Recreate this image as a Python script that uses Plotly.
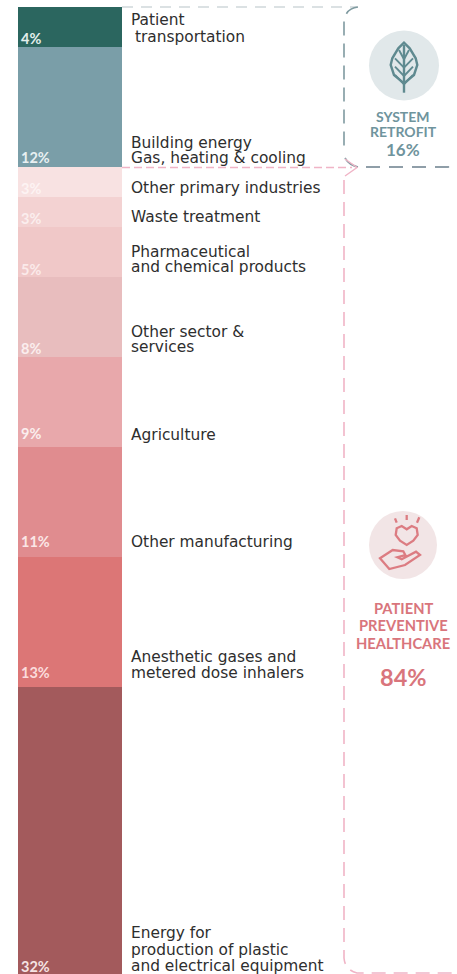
import plotly.graph_objects as go

# Share of emissions by sector, listed from the top of the column down
sectors = [
    "Patient transportation", "Building energy, gas, heating & cooling",
    "Other primary industries", "Waste treatment",
    "Pharmaceutical and chemical products", "Other sector & services",
    "Agriculture", "Other manufacturing",
    "Anesthetic gases and metered dose inhalers",
    "Energy for production of plastic and electrical equipment",
]
shares = [4, 12, 3, 3, 5, 8, 9, 11, 13, 32]
share_labels = [f"{v}%" for v in shares]
system_total = "16%"
patient_total = "84%"

bar_colors = ["#2b665f", "#7a9ea8", "#f8e2e2", "#f3d2d2", "#f0c8c8",
              "#e8bdbe", "#e8a8ab", "#e08c8f", "#dc7676", "#a35a5c"]
share_label_colors = ["#e4efec", "#e8f0f2", "#fdf3f3", "#fbeeee", "#fbeaea",
                      "#fbeeee", "#fbeeee", "#fbe6e6", "#fbdcdc", "#f5e3e3"]
share_label_y = [38, 157, 188, 218, 269, 348, 433, 541, 672, 966]

# Sector captions, one entry per rendered line: text, left edge, centre height
caption_lines = [
    ("Patient", 130, 20), ("transportation", 134, 37),
    ("Building energy", 130, 143), ("Gas, heating & cooling", 130, 158),
    ("Other primary industries", 130, 188),
    ("Waste treatment", 130, 217),
    ("Pharmaceutical", 130, 252), ("and chemical products", 130, 267),
    ("Other sector &", 130, 332), ("services", 130, 347),
    ("Agriculture", 130, 435),
    ("Other manufacturing", 130, 542),
    ("Anesthetic gases and", 130, 657), ("metered dose inhalers", 130, 673),
    ("Energy for", 130, 933), ("production of plastic", 130, 950),
    ("and electrical equipment", 130, 966),
]

TEAL = "#6f949d"
PINK = "#d9757c"
DASH_PINK = "#f0b4c6"
FIG_W, FIG_H = 457, 974

fig = go.Figure()
for name, value, color in zip(sectors, shares, bar_colors):
    fig.add_trace(go.Bar(x=["share"], y=[value], name=name, marker_color=color,
                         marker_line_width=0, hoverinfo="name+y", xaxis="x", yaxis="y"))

# Invisible trace that keeps the full-canvas overlay axes alive for annotation
fig.add_trace(go.Scatter(x=[0], y=[0], xaxis="x2", yaxis="y2", mode="markers",
                         marker_opacity=0, showlegend=False, hoverinfo="skip"))

annotations = []


def text(label, x, y, size, color, anchor="left", bold=False, family="DejaVu Sans"):
    annotations.append(dict(
        text=f"<b>{label}</b>" if bold else label, x=x, y=y, xref="x2", yref="y2",
        xanchor=anchor, yanchor="middle", showarrow=False, borderpad=0,
        font=dict(family=family, size=size, color=color),
    ))


for label, y, color in zip(share_labels, share_label_y, share_label_colors):
    text(label, 20, y, 14.5, color, bold=True, family="Lato")
for label, x, y in caption_lines:
    text(label, x, y, 15.4, "#2e2e2e")

text("SYSTEM", 403, 116, 14, TEAL, "center", True, "Lato")
text("RETROFIT", 403, 131, 14, TEAL, "center", True, "Lato")
text(system_total, 403, 149, 17, TEAL, "center", True, "Lato")
text("PATIENT", 403, 608, 14.7, PINK, "center", True, "Lato")
text("PREVENTIVE", 403, 625, 14.7, PINK, "center", True, "Lato")
text("HEALTHCARE", 403, 643, 14.7, PINK, "center", True, "Lato")
text(patient_total, 403, 677, 23.5, PINK, "center", True, "Lato")

shapes = []


def stroke(path, color, width=1.5, dash="solid", fill=None):
    shapes.append(dict(type="path", path=path, xref="x2", yref="y2",
                       line=dict(color=color, width=width, dash=dash),
                       fillcolor=fill or "rgba(0,0,0,0)", layer="above"))


def zoomed(points, ox, oy, close=False, scale=3.0):
    """Polyline through points given on a 3x detail grid anchored at (ox, oy)."""
    coords = [(ox + px / scale, oy + py / scale) for px, py in points]
    path = "M" + " L".join(f"{x:.1f},{y:.1f}" for x, y in coords)
    return path + (" Z" if close else "")


def disc(cx, cy, r, color):
    shapes.append(dict(type="circle", x0=cx - r, x1=cx + r, y0=cy - r, y1=cy + r,
                       xref="x2", yref="y2", fillcolor=color, line_width=0, layer="below"))


# Dashed bracket around the system-retrofit group
stroke("M122,7 L357,7", "#cfd8da", 1.4, "11px,8px")
stroke("M358,7 Q346,8 344,21 L344,150", "#7f9aa0", 1.6, "14px,8px")
stroke("M345,158 Q349,165 358,167", "#7f9aa0", 1.6)
stroke("M366,167 L448,167 Q454,167 456,164", "#8f9ea8", 1.8, "14px,9px")

# Dashed bracket around the patient-preventive group, with its arrow
stroke("M122,167.5 L352,167.5", DASH_PINK, 1.5, "8px,4px")
stroke("M345,159 L357,167.5 L345,176", DASH_PINK, 1.4)
stroke("M344,180 L344,958 Q345,970 357,973 L457,973", DASH_PINK, 1.6, "14px,8px")

# Leaf icon
disc(404, 65.5, 35, "#e1e8ea")
leaf = "#5f8a90"
stroke(zoomed([(207, 128), (190, 145), (172, 175), (167, 195), (177, 225), (207, 250),
               (237, 225), (247, 195), (242, 175), (224, 145)], 335, 0, True), leaf, 2.4)
stroke(zoomed([(207, 135), (207, 278)], 335, 0), leaf, 2.4)
for y0 in (150, 175, 200, 225):
    stroke(zoomed([(207, y0 + 28), (180 if y0 > 150 else 192, y0), ], 335, 0), leaf, 1.9)
    stroke(zoomed([(207, y0 + 28), (234 if y0 > 150 else 222, y0), ], 335, 0), leaf, 1.9)

# Heart-in-hand icon
disc(403, 545, 34, "#f2e5e6")
heart = "#dc7c82"
stroke(zoomed([(140, 88), (125, 78), (110, 85), (107, 105), (120, 122), (140, 135),
               (160, 122), (173, 105), (170, 85), (155, 78)], 360, 500, True), heart, 2.3)
stroke(zoomed([(105, 55), (110, 68)], 360, 500), heart, 2.3)
stroke(zoomed([(140, 45), (140, 60)], 360, 500), heart, 2.3)
stroke(zoomed([(178, 52), (171, 68)], 360, 500), heart, 2.3)
stroke(zoomed([(60, 175), (98, 150), (130, 154), (136, 165), (112, 172), (125, 178),
               (168, 155), (180, 165), (135, 195), (88, 207)], 360, 500, True), heart, 2.3)

fig.update_layout(
    width=FIG_W, height=FIG_H,
    margin=dict(l=0, r=0, t=0, b=0, pad=0),
    paper_bgcolor="white", plot_bgcolor="rgba(0,0,0,0)",
    barmode="stack", bargap=0, showlegend=False,
    xaxis=dict(domain=[18 / FIG_W, 122 / FIG_W], visible=False, type="category", fixedrange=True),
    # One share point spans ten pixels; the last segment runs off the canvas
    yaxis=dict(domain=[0, 967 / FIG_H], range=[96.7, 0], visible=False, fixedrange=True),
    xaxis2=dict(domain=[0, 1], range=[0, FIG_W], visible=False, anchor="y2", fixedrange=True),
    yaxis2=dict(domain=[0, 1], range=[FIG_H, 0], visible=False, anchor="x2", fixedrange=True),
    annotations=annotations,
    shapes=shapes,
)

fig.write_html("out.html", config={"displayModeBar": False})
